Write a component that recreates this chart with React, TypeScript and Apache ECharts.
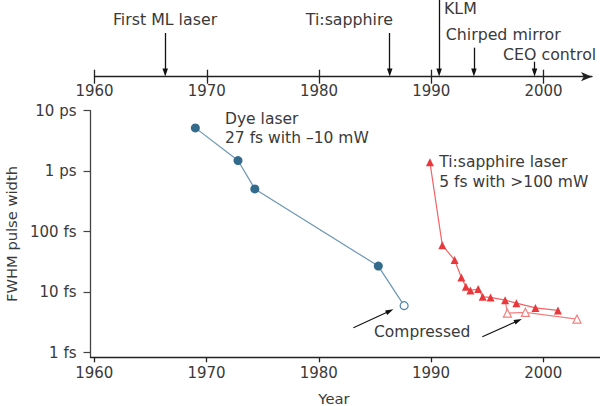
import { useEffect, useRef } from "react";
import * as echarts from "echarts";

// ---- tick values / labels ----
const yearTicks = [1960, 1970, 1980, 1990, 2000];
const pulseTickFs = [1, 10, 100, 1000, 10000];
const pulseTickLabels = ["1 fs", "10 fs", "100 fs", "1 ps", "10 ps"];

// ---- data (pulse width in fs) ----
const dyeYears = [1969.0, 1972.8, 1974.3, 1985.3];
const dyeFs = [5200, 1500, 510, 27];
const dyeCompressedYears = [1987.6];
const dyeCompressedFs = [6];

const tiYears = [1989.9, 1991.0, 1992.1, 1992.7, 1993.1, 1993.5, 1994.2, 1994.6, 1995.3, 1996.6, 1997.6, 1999.3, 2001.3];
const tiFs = [1400, 60, 34, 17.5, 12.3, 10.7, 11.3, 8.4, 8.2, 7.4, 6.6, 5.5, 5.0];
const tiCompressedYears = [1996.8, 1998.4, 2003.0];
const tiCompressedFs = [4.5, 4.65, 3.6];

// ---- timeline events ----
const eventNames = ["First ML laser", "Ti:sapphire", "KLM", "Chirped mirror", "CEO control"];
const eventYears = [1966.3, 1986.3, 1990.7, 1993.8, 1999.2];

// ---- layout (not data) ----
const X_MIN = 1959.66;
const X_MAX = 2005.05;
const TL_MAX = 2004.32;
const Y_MIN_FS = 0.84;
const Y_MAX_FS = 10000;
const eventArrowTopPx = [33, 33, 0, 47.7, 61.7];
const eventLabelPos: [number, number, string][] = [
  [165, 19.5, "center"],
  [349.3, 19.5, "center"],
  [444, 8, "left"],
  [445.7, 34, "left"],
  [503, 54, "left"],
];
// compressed pointers: [year, fs] start -> end
const compressedArrows: [number, number, number, number][] = [
  [1983.08, 2.59, 1986.32, 4.89],
  [1994.57, 1.84, 1997.76, 3.39],
];

const FONT = "DejaVu Sans";
const TEXT = "#3a3a3a";
const BLUE = "#336b8c";
const BLUE_LINE = "#6b95b3";
const RED = "#e8383c";
const RED_LINE = "#f06466";
const PINK = "#f0807f";

export default function App() {
  const ref = useRef<HTMLDivElement>(null);
  useEffect(() => {
    document.body.style.margin = "0";
    const chart = echarts.init(ref.current!, null, { renderer: "svg" });
    const lg = (v: number) => Math.log10(v);
    const minor: number[] = [];
    for (let d = 0; d < 4; d++) for (let k = 2; k <= 9; k++) minor.push(lg(k * Math.pow(10, d)));
    const majorLog = pulseTickFs.map(lg);
    const yearFmt = (v: number) => String(Math.round(v));

    const axisLineBlack = { color: "#222", width: 1.3 };

    const option: any = {
      animation: false,
      textStyle: { fontFamily: FONT },
      grid: [
        { left: 90.5, right: 0, top: 110.7, bottom: 48.7, outerBoundsMode: "none", containLabel: false },
        { left: 94.5, right: 8, top: 0, height: 76.7, outerBoundsMode: "none", containLabel: false },
      ],
      xAxis: [
        {
          gridIndex: 0, type: "value", min: X_MIN, max: X_MAX,
          axisLine: { show: true, onZero: false, lineStyle: axisLineBlack },
          axisTick: { show: true, customValues: yearTicks, length: 5, lineStyle: axisLineBlack },
          axisLabel: { customValues: yearTicks, formatter: yearFmt, margin: 8, fontSize: 15, color: TEXT, fontFamily: FONT },
          splitLine: { show: false },
        },
        {
          gridIndex: 1, type: "value", min: 1960, max: TL_MAX, position: "bottom",
          axisLine: { show: true, onZero: false, symbol: ["none", "arrow"], symbolSize: [7, 11], lineStyle: axisLineBlack },
          axisTick: { show: true, customValues: yearTicks, length: 7, lineStyle: axisLineBlack },
          axisLabel: { customValues: yearTicks, formatter: yearFmt, margin: 7, fontSize: 15, color: TEXT, fontFamily: FONT },
          splitLine: { show: false },
        },
        {
          gridIndex: 1, type: "value", min: 1960, max: TL_MAX, position: "bottom",
          axisLine: { show: false, onZero: false },
          axisTick: { show: true, inside: true, customValues: yearTicks, length: 7, lineStyle: axisLineBlack },
          axisLabel: { show: false },
          splitLine: { show: false },
        },
      ],
      yAxis: [
        {
          gridIndex: 0, type: "value", min: lg(Y_MIN_FS), max: lg(Y_MAX_FS),
          axisLine: { show: true, onZero: false, lineStyle: { color: "#444", width: 1.3 } },
          axisTick: { show: true, customValues: majorLog, length: 7, lineStyle: { color: "#444", width: 1.2 } },
          axisLabel: {
            customValues: majorLog, margin: 14, fontSize: 15, color: TEXT, fontFamily: FONT,
            formatter: (v: number) => {
              const i = majorLog.findIndex((m) => Math.abs(m - v) < 1e-6);
              return i >= 0 ? pulseTickLabels[i] : "";
            },
          },
          splitLine: { show: false },
          name: "FWHM pulse width", nameLocation: "middle", nameGap: 70,
          nameTextStyle: { fontSize: 14.7, color: TEXT, fontFamily: FONT },
        },
        {
          gridIndex: 0, type: "value", min: lg(Y_MIN_FS), max: lg(Y_MAX_FS),
          axisLine: { show: false, onZero: false },
          axisTick: { show: true, customValues: minor, length: 4, lineStyle: { color: "#444", width: 1 } },
          axisLabel: { show: false },
          splitLine: { show: false },
        },
        { gridIndex: 1, type: "value", min: 0, max: 76.7, inverse: true, show: false },
      ],
      series: [
        {
          type: "line", xAxisIndex: 0, yAxisIndex: 0,
          symbol: "circle", symbolSize: 9,
          lineStyle: { color: BLUE_LINE, width: 1.2 },
          itemStyle: { color: BLUE },
          data: [
            ...dyeYears.map((y, i) => [y, lg(dyeFs[i])]),
            ...dyeCompressedYears.map((y, i) => ({
              value: [y, lg(dyeCompressedFs[i])],
              symbolSize: 8,
              itemStyle: { color: "#fff", borderColor: "#4d82a6", borderWidth: 1.2 },
            })),
          ],
          z: 3,
        },
        {
          type: "line", xAxisIndex: 0, yAxisIndex: 0,
          symbol: "triangle", symbolSize: 8,
          lineStyle: { color: RED_LINE, width: 1.2 },
          itemStyle: { color: RED },
          data: tiYears.map((y, i) => [y, lg(tiFs[i])]),
          z: 4,
        },
        {
          type: "line", xAxisIndex: 0, yAxisIndex: 0,
          symbol: "triangle", symbolSize: 8,
          lineStyle: { color: PINK, width: 1.2 },
          itemStyle: { color: "#fff", borderColor: PINK, borderWidth: 1.2 },
          data: [
            { value: [tiYears[9], lg(tiFs[9])], symbol: "none" },
            ...tiCompressedYears.map((y, i) => [y, lg(tiCompressedFs[i])]),
          ],
          z: 3,
        },
        {
          type: "line", xAxisIndex: 0, yAxisIndex: 0, data: [],
          markLine: {
            silent: true, animation: false,
            symbol: ["none", "triangle"], symbolSize: [5, 8],
            label: { show: false },
            lineStyle: { color: "#111", width: 1.1, type: "solid" },
            data: compressedArrows.map(([x1, f1, x2, f2]) => [
              { coord: [x1, lg(f1)] },
              { coord: [x2, lg(f2)] },
            ]),
          },
        },
        {
          type: "line", xAxisIndex: 1, yAxisIndex: 2, data: [],
          markLine: {
            silent: true, animation: false,
            symbol: ["none", "triangle"], symbolSize: [5.5, 8],
            label: { show: false },
            lineStyle: { color: "#111", width: 1.3, type: "solid" },
            data: eventYears.map((y, i) => [
              { coord: [y, eventArrowTopPx[i]] },
              { coord: [y, 72.5] },
            ]),
          },
        },
      ],
      graphic: [
        ...eventNames.map((n, i) => ({
          type: "text", x: eventLabelPos[i][0], y: eventLabelPos[i][1],
          style: { text: n, fill: TEXT, fontSize: 15.8, fontFamily: FONT, align: eventLabelPos[i][2], verticalAlign: "middle" },
        })),
        { type: "text", x: 225, y: 118.5, style: { text: "Dye laser", fill: TEXT, fontSize: 15.5, fontFamily: FONT, align: "left", verticalAlign: "middle" } },
        { type: "text", x: 225, y: 137.5, style: { text: "27 fs with –10 mW", fill: TEXT, fontSize: 15.5, fontFamily: FONT, align: "left", verticalAlign: "middle" } },
        { type: "text", x: 439.3, y: 162, style: { text: "Ti:sapphire laser", fill: TEXT, fontSize: 15.5, fontFamily: FONT, align: "left", verticalAlign: "middle" } },
        { type: "text", x: 439.3, y: 182, style: { text: "5 fs with >100 mW", fill: TEXT, fontSize: 15.5, fontFamily: FONT, align: "left", verticalAlign: "middle" } },
        { type: "text", x: 374, y: 331.5, style: { text: "Compressed", fill: TEXT, fontSize: 15.5, fontFamily: FONT, align: "left", verticalAlign: "middle" } },
        { type: "text", x: 334, y: 398, style: { text: "Year", fill: TEXT, fontSize: 14.8, fontFamily: FONT, align: "center", verticalAlign: "middle" } },
      ],
    };
    chart.setOption(option);
    return () => chart.dispose();
  }, []);
  return <div ref={ref} style={{ width: 600, height: 406 }} />;
}
